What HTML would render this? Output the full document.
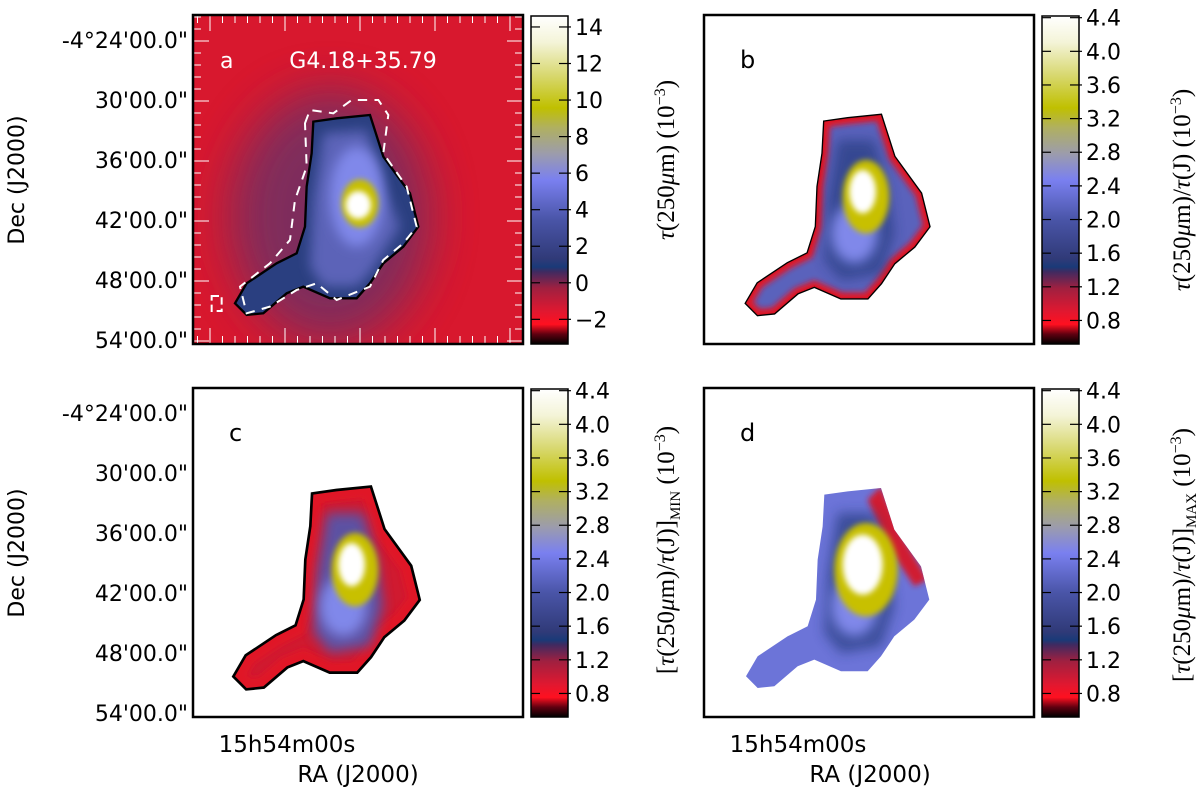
<!DOCTYPE html>
<html><head><meta charset="utf-8">
<style>
html,body{margin:0;padding:0;background:#fff;}
svg{display:block;}
text{font-family:"DejaVu Sans","Liberation Sans",sans-serif;}
.math{font-family:"Liberation Serif","DejaVu Serif",serif;}
</style></head>
<body>
<svg id="fig" width="1200" height="789" viewBox="0 0 1200 789" xmlns="http://www.w3.org/2000/svg">
<defs>
  <linearGradient id="cmap" x1="0" y1="1" x2="0" y2="0">
    <stop offset="0" stop-color="#000000"/>
    <stop offset="0.03" stop-color="#600010"/>
    <stop offset="0.06" stop-color="#ff1020"/>
    <stop offset="0.10" stop-color="#e01830"/>
    <stop offset="0.17" stop-color="#a02040"/>
    <stop offset="0.22" stop-color="#402a60"/>
    <stop offset="0.235" stop-color="#1a3a78"/>
    <stop offset="0.26" stop-color="#303a78"/>
    <stop offset="0.38" stop-color="#4a55a8"/>
    <stop offset="0.50" stop-color="#7a80f0"/>
    <stop offset="0.58" stop-color="#9c9cac"/>
    <stop offset="0.66" stop-color="#b0b060"/>
    <stop offset="0.72" stop-color="#c0c000"/>
    <stop offset="0.82" stop-color="#d8d870"/>
    <stop offset="0.92" stop-color="#f4f4d8"/>
    <stop offset="1" stop-color="#ffffff"/>
  </linearGradient>
  <filter id="b6" x="-50%" y="-50%" width="200%" height="200%"><feGaussianBlur stdDeviation="18"/></filter>
  <filter id="b3" x="-50%" y="-50%" width="200%" height="200%"><feGaussianBlur stdDeviation="9"/></filter>
  <filter id="b20" x="-50%" y="-50%" width="200%" height="200%"><feGaussianBlur stdDeviation="70"/></filter>
  <clipPath id="clipA"><rect x="193" y="15" width="330" height="329"/></clipPath>
  <polygon id="cloud" points="430,365 500,355 600,345 640,470 720,580 745,680 700,740 640,790 600,850 560,895 480,895 400,860 350,880 280,940 230,945 195,910 230,850 320,790 380,760 405,680 410,560 425,460"/>
  <clipPath id="cloudClip"><use href="#cloud"/></clipPath>
</defs>

<g>
  <rect x="193" y="15" width="330" height="329" fill="#d8182e"/>
  <g clip-path="url(#clipA)">
    <g transform="translate(170,0) scale(0.3333)">
      <ellipse cx="480" cy="650" rx="300" ry="380" fill="#7a2d5e" filter="url(#b20)" opacity="0.95"/>
      <use href="#cloud" fill="#2a3f80"/>
      <g clip-path="url(#cloudClip)">
        <path d="M460,400 L590,390 L640,560 L690,680 L600,820 L560,860 L460,860 L420,800 L430,600Z" fill="#5c64b8" filter="url(#b6)"/>
        <ellipse cx="560" cy="590" rx="80" ry="150" fill="#8088ea" filter="url(#b6)"/>
      </g>
      <ellipse cx="570" cy="610" rx="55" ry="72" fill="#c8c000" filter="url(#b3)"/>
      <ellipse cx="565" cy="615" rx="38" ry="42" fill="#ffffff" filter="url(#b3)"/>
      <use href="#cloud" fill="none" stroke="#000" stroke-width="7"/>
      <polygon points="405,370 420,330 490,340 545,300 625,300 655,345 640,460 710,560 740,680 700,730 640,780 600,860 500,900 440,850 380,870 300,920 230,940 210,860 300,790 360,720 375,600 410,500" fill="none" stroke="#fff" stroke-width="6" stroke-dasharray="28,22"/>
      <rect x="125" y="888" width="30" height="45" fill="none" stroke="#fff" stroke-width="6" stroke-dasharray="22,12"/>
    </g>
  </g>
  <g id="ticksA"></g>
  <rect x="193" y="15" width="330" height="329" fill="none" stroke="#000" stroke-width="2.5"/>
  <text x="220" y="68" font-size="22" fill="#fff">a</text>
  <text x="363" y="68" font-size="22" fill="#fff" text-anchor="middle">G4.18+35.79</text>
</g>

<g id="panelB"></g>
<g id="panelC"></g>
<g id="panelD"></g>

<g id="cbars"></g>
<g id="axes"></g>

<text class="math" font-size="25" transform="translate(674,160) rotate(-90)" text-anchor="middle"><tspan font-style="italic">τ</tspan>(250<tspan font-style="italic">μ</tspan>m) (10<tspan dy="-9" font-size="16">−3</tspan><tspan dy="9">)</tspan></text>
<text class="math" font-size="25" transform="translate(1190,190) rotate(-90)" text-anchor="middle"><tspan font-style="italic">τ</tspan>(250<tspan font-style="italic">μ</tspan>m)/<tspan font-style="italic">τ</tspan>(J) (10<tspan dy="-9" font-size="16">−3</tspan><tspan dy="9">)</tspan></text>
<text class="math" font-size="25" transform="translate(674,550) rotate(-90)" text-anchor="middle">[<tspan font-style="italic">τ</tspan>(250<tspan font-style="italic">μ</tspan>m)/<tspan font-style="italic">τ</tspan>(J)]<tspan dy="6" font-size="15">MIN</tspan><tspan dy="-6"> (10</tspan><tspan dy="-9" font-size="16">−3</tspan><tspan dy="9">)</tspan></text>
<text class="math" font-size="25" transform="translate(1190,555) rotate(-90)" text-anchor="middle">[<tspan font-style="italic">τ</tspan>(250<tspan font-style="italic">μ</tspan>m)/<tspan font-style="italic">τ</tspan>(J)]<tspan dy="6" font-size="15">MAX</tspan><tspan dy="-6"> (10</tspan><tspan dy="-9" font-size="16">−3</tspan><tspan dy="9">)</tspan></text>
</svg>

<script>
const NS = "http://www.w3.org/2000/svg";
const cbarATicks = [14, 12, 10, 8, 6, 4, 2, 0, -2];
const cbarATickLabels = ["14", "12", "10", "8", "6", "4", "2", "0", "−2"];
const cbarATop = 14.6, cbarABottom = -3.35;
const cbarRTicks = [4.4, 4.0, 3.6, 3.2, 2.8, 2.4, 2.0, 1.6, 1.2, 0.8];
const cbarRTickLabels = ["4.4", "4.0", "3.6", "3.2", "2.8", "2.4", "2.0", "1.6", "1.2", "0.8"];
const cbarRTop = 4.42, cbarRBottom = 0.52;
const decLabels = ["-4°24'00.0\"", "30'00.0\"", "36'00.0\"", "42'00.0\"", "48'00.0\"", "54'00.0\""];
const raLabels = ["15h54m00s"];

function mk(tag, attrs, parent) {
  const e = document.createElementNS(NS, tag);
  for (const k in attrs) e.setAttribute(k, attrs[k]);
  parent.appendChild(e);
  return e;
}

const ta = document.getElementById('ticksA');
for (let i = 0; i * 12.5 <= 330; i++) {
  const x = 193 + 4.5 + i * 12.5;
  const len = (i % 6 === 1) ? 15 : 7;
  if (x > 522) break;
  mk('line', {x1: x, y1: 16, x2: x, y2: 16 + len, stroke: '#fff', 'stroke-width': 1}, ta);
  mk('line', {x1: x, y1: 343, x2: x, y2: 343 - len, stroke: '#fff', 'stroke-width': 1}, ta);
}
for (let i = 0; i * 12 <= 329; i++) {
  const y = 16 + i * 12 + 1;
  if (y > 343) break;
  const len = (i % 5 === 2) ? 15 : 7;
  mk('line', {x1: 194, y1: y, x2: 194 + len, y2: y, stroke: '#fff', 'stroke-width': 1}, ta);
  mk('line', {x1: 522, y1: y, x2: 522 - len, y2: y, stroke: '#fff', 'stroke-width': 1}, ta);
}

function ratioPanel(gid, ox, oy, variant) {
  const g = document.getElementById(gid);
  mk('rect', {x: ox, y: oy, width: 330, height: 329, fill: '#fff'}, g);
  const inner = mk('g', {transform: `translate(${ox - 23},${oy - 15}) scale(0.3333)`}, g);
  const base = variant === 'd' ? '#6c74d8' : (variant === 'c' ? '#d01a30' : '#5a62bc');
  const edge = '#e01828';
  mk('use', {href: '#cloud', fill: base, stroke: variant === 'd' ? 'none' : '#000', 'stroke-width': variant === 'c' ? 16 : 8}, inner);
  const cl = mk('g', {'clip-path': 'url(#cloudClip)'}, inner);
  if (variant !== 'd') mk('use', {href: '#cloud', fill: 'none', stroke: edge, 'stroke-width': variant === 'c' ? 60 : 35, filter: 'url(#b3)'}, cl);
  else mk('path', {d: 'M600,340 L660,480 L740,620 L700,640 L620,520 L560,380Z', fill: '#d01a30', filter: 'url(#b3)'}, cl);
  mk('path', {d: 'M470,420 L580,420 L620,560 L640,700 L600,820 L480,840 L430,780 L440,600Z', fill: variant === 'c' ? '#5058b0' : '#283c80', filter: 'url(#b6)', opacity: variant === 'c' ? 0.9 : 0.7}, cl);
  mk('ellipse', {cx: 520, cy: 700, rx: 70, ry: 90, fill: '#8088ea', filter: 'url(#b6)'}, cl);
  mk('ellipse', {cx: 555, cy: 590, rx: variant === 'd' ? 95 : 70, ry: variant === 'd' ? 140 : 110, fill: '#c8c000', filter: 'url(#b3)'}, cl);
  mk('ellipse', {cx: 545, cy: 575, rx: variant === 'd' ? 60 : 40, ry: variant === 'd' ? 90 : 65, fill: '#ffffff', filter: 'url(#b3)'}, cl);
  mk('rect', {x: ox, y: oy, width: 330, height: 329, fill: 'none', stroke: '#000', 'stroke-width': 2.5}, g);
  const t = mk('text', {x: ox + 36, y: oy + 53, 'font-size': 24, fill: '#000'}, g);
  t.textContent = variant;
  
  
}
ratioPanel('panelB', 704, 15, 'b');
ratioPanel('panelC', 193, 388, 'c');
ratioPanel('panelD', 704, 388, 'd');

const cb = document.getElementById('cbars');
function colorbar(name, x, y, vals, labels, vTop, vBot) {
  const g = mk('g', {}, cb);
  
  
  const h = 328, w = 37;
  mk('rect', {x: x, y: y, width: w, height: h, fill: 'url(#cmap)', stroke: '#000', 'stroke-width': 1.5}, g);
  const yOf = v => y + (vTop - v) / (vTop - vBot) * h;
  vals.forEach((v, i) => {
    const yy = yOf(v);
    mk('line', {x1: x, y1: yy, x2: x + 9, y2: yy, stroke: '#000', 'stroke-width': 1.2}, g);
    mk('line', {x1: x + w - 9, y1: yy, x2: x + w + 3, y2: yy, stroke: '#000', 'stroke-width': 1.2}, g);
    const t = mk('text', {x: x + w + 7, y: yy + 8, 'font-size': 22, fill: '#000'}, g);
    t.textContent = labels[i];
    
    
  });
}
colorbar('colorbar-a', 531, 16, cbarATicks, cbarATickLabels, cbarATop, cbarABottom);
colorbar('colorbar-b', 1042, 16, cbarRTicks, cbarRTickLabels, cbarRTop, cbarRBottom);
colorbar('colorbar-c', 531, 389, cbarRTicks, cbarRTickLabels, cbarRTop, cbarRBottom);
colorbar('colorbar-d', 1042, 389, cbarRTicks, cbarRTickLabels, cbarRTop, cbarRBottom);

const ax = document.getElementById('axes');
[15, 388].forEach((top) => {
  decLabels.forEach((lab, i) => {
    const t = mk('text', {x: 188, y: top + 33 + i * 60, 'font-size': 22, 'text-anchor': 'end', fill: '#000'}, ax);
    t.textContent = lab;
    
    
  });
  const d = mk('text', {transform: `translate(24,${top + 165}) rotate(-90)`, 'font-size': 22, 'text-anchor': 'middle', fill: '#000'}, ax);
  d.textContent = 'Dec (J2000)';
  
  
});
[[287, 358], [798, 870]].forEach(p => {
  const t = mk('text', {x: p[0], y: 752, 'font-size': 23, 'text-anchor': 'middle', fill: '#000'}, ax);
  t.textContent = raLabels[0];
  
  
  const r = mk('text', {x: p[1], y: 782, 'font-size': 23, 'text-anchor': 'middle', fill: '#000'}, ax);
  r.textContent = 'RA (J2000)';
  
  
});
</script>
</body></html>
